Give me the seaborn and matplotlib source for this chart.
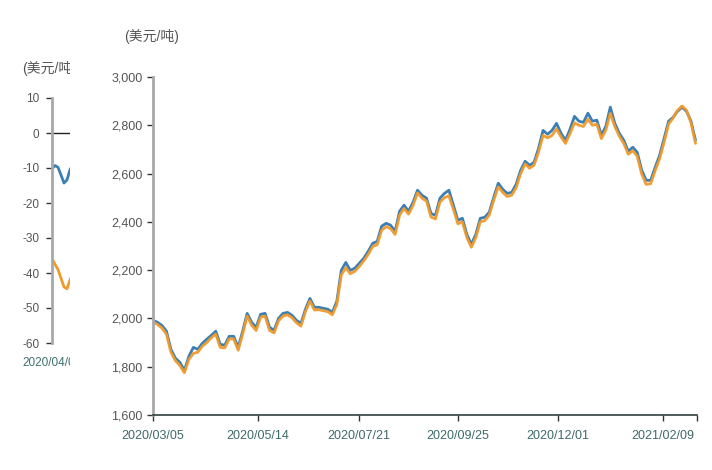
import matplotlib
matplotlib.use("Agg")
import matplotlib.pyplot as plt
import pandas as pd
import seaborn as sns
from matplotlib.patches import Rectangle
from matplotlib.ticker import FuncFormatter

# ---------------- data ----------------
start_date = "2020-03-05"
end_date = "2021-03-04"
sample_step = "3D"

blue_values = [
    1992, 1984, 1971, 1947, 1872, 1835, 1818, 1785, 1843, 1880,
    1872, 1897, 1914, 1930, 1947, 1893, 1889, 1926, 1926, 1880,
    1947, 2021, 1984, 1963, 2017, 2021, 1963, 1951, 2000, 2021,
    2025, 2013, 1992, 1980, 2038, 2083, 2046, 2046, 2042, 2038,
    2025, 2071, 2199, 2232, 2199, 2208, 2228, 2249, 2278, 2311,
    2319, 2382, 2394, 2386, 2361, 2444, 2469, 2444, 2481, 2531,
    2510, 2498, 2435, 2427, 2498, 2518, 2531, 2469, 2406, 2415,
    2348, 2307, 2348, 2415, 2419, 2440, 2502, 2560, 2535, 2518,
    2522, 2556, 2614, 2651, 2634, 2647, 2705, 2779, 2763, 2779,
    2808, 2767, 2738, 2783, 2837, 2817, 2812, 2850, 2817, 2821,
    2759, 2796, 2875, 2808, 2767, 2738, 2692, 2709, 2688, 2614,
    2572, 2572, 2626, 2676, 2746, 2817, 2833, 2858, 2875, 2858,
    2817, 2738,
]
orange_values = [
    1985, 1975, 1960, 1935, 1860, 1825, 1805, 1775, 1830, 1855,
    1860, 1885, 1900, 1920, 1935, 1880, 1878, 1915, 1915, 1868,
    1935, 2010, 1972, 1950, 2005, 2010, 1950, 1940, 1990, 2010,
    2015, 2003, 1982, 1968, 2028, 2072, 2035, 2036, 2032, 2028,
    2015, 2058, 2180, 2210, 2185, 2195, 2215, 2238, 2265, 2298,
    2305, 2365, 2380, 2372, 2348, 2428, 2455, 2432, 2468, 2520,
    2498, 2486, 2420, 2412, 2482, 2500, 2508, 2452, 2392, 2400,
    2335, 2295, 2335, 2400, 2405, 2428, 2490, 2545, 2522, 2505,
    2510, 2542, 2600, 2640, 2622, 2635, 2690, 2758, 2748, 2758,
    2785, 2752, 2725, 2765, 2810, 2800, 2795, 2825, 2800, 2805,
    2745, 2780, 2850, 2795, 2755, 2725, 2680, 2695, 2672, 2598,
    2555, 2558, 2612, 2662, 2730, 2805, 2830, 2862, 2880, 2862,
    2810, 2725,
]
tick_dates = ["2020-03-05", "2020-05-14", "2020-07-21",
              "2020-09-25", "2020-12-01", "2021-02-09"]
tick_labels = ["2020/03/05", "2020/05/14", "2020/07/21",
               "2020/09/25", "2020/12/01", "2021/02/09"]
y_ticks = [1600, 1800, 2000, 2200, 2400, 2600, 2800, 3000]
unit_label = "(美元/吨)"

# partially hidden spread chart on the left
spread_blue = [-10.2, -9.3, -9.8, -12.0, -14.3, -13.4, -10.5, -9.0]
spread_orange = [-36.0, -37.5, -39.0, -41.5, -44.0, -44.5, -42.0, -40.0]
spread_tick_label = "2020/04/07"
spread_y_ticks = [10, 0, -10, -20, -30, -40, -50, -60]

BLUE = "#3d7fb3"
ORANGE = "#f09a2c"

# ---------------- style ----------------
sns.set_theme(style="white")
plt.rcParams["font.family"] = ["Liberation Sans", "Noto Sans CJK SC", "DejaVu Sans"]
plt.rcParams["axes.unicode_minus"] = False

W, H = 712, 470
fig = plt.figure(figsize=(W / 100, H / 100), dpi=100)

# ---------------- left (hidden) chart ----------------
axL = fig.add_axes([52 / W, 1 - 343 / H, 279 / W, 245 / H], zorder=0)
idx = list(range(len(spread_blue)))
sns.lineplot(x=idx, y=spread_blue, ax=axL, color=BLUE, lw=2)
sns.lineplot(x=idx, y=spread_orange, ax=axL, color=ORANGE, lw=2)
axL.axhline(0, color="#222222", lw=1)
axL.set_xlim(0, 93)
axL.set_ylim(-60, 10)
axL.set_yticks(spread_y_ticks)
axL.set_yticklabels([str(v) for v in spread_y_ticks])
axL.set_xticks([0])
axL.set_xticklabels([spread_tick_label])
for s in ["top", "right", "bottom"]:
    axL.spines[s].set_visible(False)
axL.spines["left"].set_color("#a8a8a8")
axL.spines["left"].set_linewidth(2)
axL.tick_params(axis="y", left=True, length=4, width=1, color="#333333",
                pad=5, labelsize=8.5, labelcolor="#555555")
axL.tick_params(axis="x", bottom=False, length=0, pad=10, labelsize=8.5,
                labelcolor="#3f7070")
axL.set_xlabel("")
axL.set_ylabel("")
fig.text(22 / W, 1 - 69 / H, unit_label, fontsize=10, color="#555555",
         va="center", ha="left", zorder=0.5)

# white cover of the main chart panel
fig.add_artist(Rectangle((70 / W, 0), 1 - 70 / W, 1, transform=fig.transFigure,
                         facecolor="white", edgecolor="none", zorder=1))

# ---------------- main chart ----------------
dates = pd.date_range(start_date, periods=len(blue_values), freq=sample_step)
df = pd.DataFrame({"date": dates, "blue": blue_values, "orange": orange_values})

ax = fig.add_axes([153 / W, 1 - 415 / H, (697 - 153) / W, (415 - 77) / H], zorder=2)
ax.patch.set_alpha(0)
sns.lineplot(data=df, x="date", y="blue", ax=ax, color=BLUE, lw=2)
sns.lineplot(data=df, x="date", y="orange", ax=ax, color=ORANGE, lw=2, alpha=0.95)

ax.set_xlim(pd.Timestamp(start_date), pd.Timestamp(end_date))
ax.set_ylim(1600, 3000)
ax.set_yticks(y_ticks)
ax.yaxis.set_major_formatter(FuncFormatter(lambda v, p: f"{int(v):,}"))
ax.set_xticks(list(pd.to_datetime(tick_dates)) + [pd.Timestamp(end_date)])
ax.set_xticklabels(tick_labels + [""])
ax.set_xlabel("")
ax.set_ylabel("")
for s in ["top", "right"]:
    ax.spines[s].set_visible(False)
ax.spines["left"].set_color("#a8a8a8")
ax.spines["left"].set_linewidth(2)
ax.spines["bottom"].set_color("#2f3f3f")
ax.spines["bottom"].set_linewidth(1.2)
ax.tick_params(axis="y", left=True, length=4.5, width=1, color="#333333",
               pad=3, labelsize=9, labelcolor="#555555")
ax.tick_params(axis="x", bottom=True, length=4.5, width=1, color="#333333",
               pad=6, labelsize=9, labelcolor="#3f6a6a")

fig.text(124 / W, 1 - 37 / H, unit_label, fontsize=10, color="#555555",
         va="center", ha="left", zorder=3)

fig.savefig("out.png", dpi=100)
